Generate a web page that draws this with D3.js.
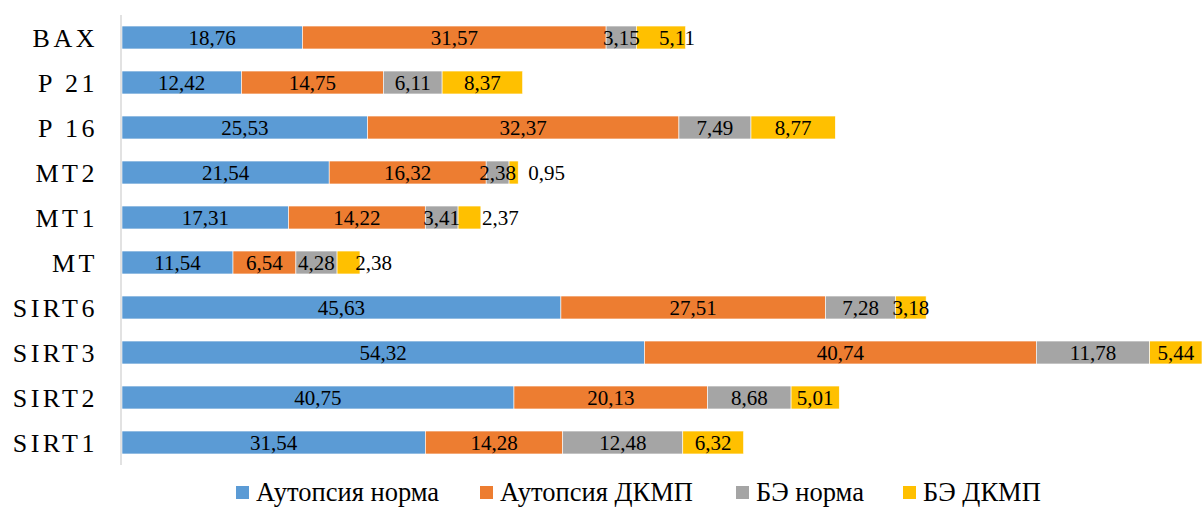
<!DOCTYPE html>
<html><head><meta charset="utf-8">
<script src="https://cdn.jsdelivr.net/npm/d3@7"></script>
<style>body{margin:0;background:#fff}svg{display:block}
text{font-family:"Liberation Serif" !important}</style>
</head><body>
<svg id="c" width="1202" height="507"></svg>
<script>
const categories = ["BAX","P 21","P 16","MT2","MT1","MT","SIRT6","SIRT3","SIRT2","SIRT1"];
const seriesNames = ["Аутопсия норма","Аутопсия ДКМП","БЭ норма","БЭ ДКМП"];
const autopsyNorm = [18.76,12.42,25.53,21.54,17.31,11.54,45.63,54.32,40.75,31.54];
const autopsyDCM  = [31.57,14.75,32.37,16.32,14.22,6.54,27.51,40.74,20.13,14.28];
const beNorm      = [3.15,6.11,7.49,2.38,3.41,4.28,7.28,11.78,8.68,12.48];
const beDCM       = [5.11,8.37,8.77,0.95,2.37,2.38,3.18,5.44,5.01,6.32];
const seriesValues = [autopsyNorm, autopsyDCM, beNorm, beDCM];
const colors = ["#5B9BD5","#ED7D31","#A5A5A5","#FFC000"];
// manual label shifts (px) for last series, as in the original
const lastLabelShift = {"BAX":16,"MT2":33,"MT1":31,"MT":25};

const svg = d3.select("#c");
const total = d3.max(categories.map((c,i)=>d3.sum(seriesValues,s=>s[i])));
const x = d3.scaleLinear().domain([0,total]).range([122,1202]);
const y = d3.scaleBand().domain(categories).range([15,465]).paddingInner(0.49).paddingOuter(0.245);

const fmt = v => v.toFixed(2).replace(".",",");
const FONT = '"Liberation Serif"';

categories.forEach((c,i)=>{
  let acc = 0;
  seriesValues.forEach((s,k)=>{
    const v = s[i];
    const x0 = x(acc), x1 = x(acc+v);
    svg.append("rect").attr("x",x0).attr("y",y(c)).attr("width",x1-x0).attr("height",y.bandwidth())
      .attr("fill",colors[k]).attr("stroke","#fff").attr("stroke-width",0.6);
    acc += v;
  });
});
categories.forEach((c,i)=>{
  let acc = 0;
  seriesValues.forEach((s,k)=>{
    const v = s[i];
    let cx = (x(acc)+x(acc+v))/2;
    if(k===3 && lastLabelShift[c]) cx += lastLabelShift[c];
    svg.append("text").attr("x",cx).attr("y",y(c)+y.bandwidth()/2).attr("dy","0.35em")
      .attr("text-anchor","middle").style("font-family",FONT)
      .style("font-size","21px").attr("fill","#000").text(fmt(v));
    acc += v;
  });
});

// axis
const yAxis = d3.axisLeft(y).tickSize(0).tickPadding(0);
const g = svg.append("g").attr("transform","translate(121,0)").call(yAxis);
g.attr("font-family",null).attr("font-size",null);
g.select(".domain").attr("stroke","#d9d9d9").attr("stroke-width",1.5).attr("d","M0,15V465");
g.selectAll(".tick text").style("font-family",FONT)
  .style("font-size","26px").attr("fill","#000").style("letter-spacing","3.5px")
  .attr("x",-23).attr("dy","0.35em").attr("text-anchor","end");

// legend
const legendX = [236,480,736,903];
seriesNames.forEach((n,k)=>{
  svg.append("rect").attr("x",legendX[k]).attr("y",486).attr("width",13).attr("height",13).attr("fill",colors[k]);
  svg.append("text").attr("x",legendX[k]+20).attr("y",492).attr("dy","0.33em")
    .style("font-family",FONT).style("font-size","26.5px").attr("fill","#000").text(n);
});
</script>
</body></html>
